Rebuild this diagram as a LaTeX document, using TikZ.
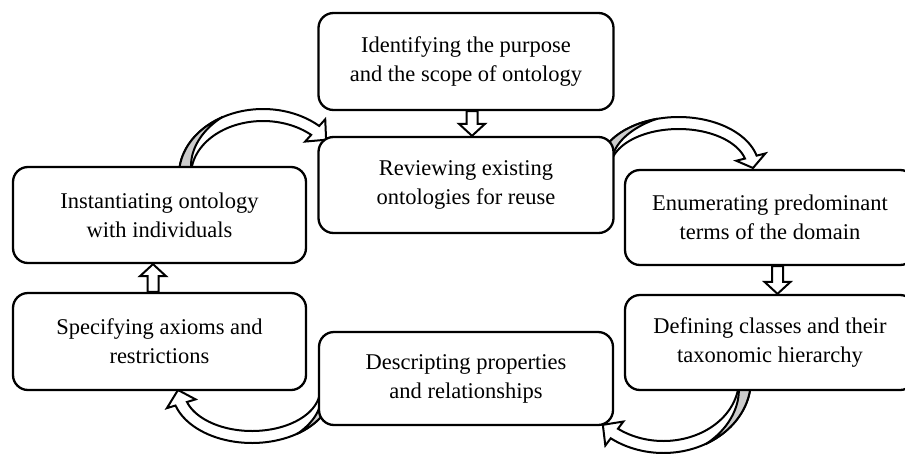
\documentclass[tikz,border=0pt]{standalone}
\usepackage{fontspec}
\setmainfont{Liberation Serif}
\usetikzlibrary{calc,backgrounds}
\tikzset{
  box/.style={draw, line width=2.3pt, rounded corners=15pt, fill=white, align=center,
    font=\fontsize{22.5}{29}\selectfont, inner sep=0pt},
  carrow/.style={line width=2pt, line join=miter, fill=white},
  barrow/.style={line width=2pt, line join=miter, fill=white},
}
% curved block arrow: cx cy rx ry tailangle tipangle headangle grayspan
\newcommand\curvarrow[8]{%
  \def\caX{#1}\def\caY{#2}\def\caRx{#3}\def\caRy{#4}\def\caA{#5}\def\caB{#6}%
  \pgfmathsetmacro\caH{#6-#7}%
  \pgfmathsetmacro\caG{#5+#8}%
  \filldraw[carrow]
    plot[domain=\caA:\caH, samples=50] ({\caX+(\caRx+6)*cos(\x)},{\caY+(\caRy+6)*sin(\x)})
    -- ({\caX+(\caRx+15)*cos(\caH)},{\caY+(\caRy+15)*sin(\caH)})
    -- ({\caX+\caRx*cos(\caB)},{\caY+\caRy*sin(\caB)})
    -- ({\caX+(\caRx-15)*cos(\caH)},{\caY+(\caRy-15)*sin(\caH)})
    -- ({\caX+(\caRx-6)*cos(\caH)},{\caY+(\caRy-6)*sin(\caH)})
    -- plot[domain=\caH:\caA, samples=50] ({\caX+(\caRx-6)*cos(\x)},{\caY+(\caRy-6)*sin(\x)})
    -- cycle;
  \filldraw[carrow, fill=black!20]
    plot[domain=\caA:\caG, samples=40] ({\caX+(\caRx+6)*cos(\x)},{\caY+(\caRy+6)*sin(\x)})
    -- plot[domain=\caG:\caA, samples=40] ({\caX+(\caRx+6-12*(\caG-\x)/(#8))*cos(\x)},{\caY+(\caRy+6-12*(\caG-\x)/(#8))*sin(\x)})
    -- cycle;
}
% straight vertical block arrow from coordinate #1 to coordinate #2
\newcommand\blockarrow[2]{%
  \filldraw[barrow]
    let \p1=(#1), \p2=(#2), \n1={sign(\y2-\y1)} in
    (\x1-5.5pt,\y1) -- (\x1-5.5pt,\y2-\n1*12pt) -- (\x1-13pt,\y2-\n1*12pt) -- (\x1,\y2)
    -- (\x1+13pt,\y2-\n1*12pt) -- (\x1+5.5pt,\y2-\n1*12pt) -- (\x1+5.5pt,\y1) -- cycle;
}
\begin{document}
\begin{tikzpicture}[x=1pt,y=-1pt]
\useasboundingbox (0,0) rectangle (905,453);
\node[box, minimum width=295pt, minimum height=97pt] (b1) at (466,61.5) {Identifying the purpose\\and the scope of ontology};
\node[box, minimum width=295pt, minimum height=96pt] (b2) at (466,185) {Reviewing existing\\ontologies for reuse};
\node[box, minimum width=290pt, minimum height=95pt] (b3) at (770,217.5) {Enumerating predominant\\terms of the domain};
\node[box, minimum width=290pt, minimum height=95pt] (b4) at (770,342.5) {Defining classes and their\\taxonomic hierarchy};
\node[box, minimum width=294pt, minimum height=93pt] (b5) at (466,378.5) {Descripting properties\\and relationships};
\node[box, minimum width=293pt, minimum height=97pt] (b6) at (159.5,341.5) {Specifying axioms and\\restrictions};
\node[box, minimum width=293pt, minimum height=96pt] (b7) at (159.5,215) {Instantiating ontology\\with individuals};
\begin{pgfonlayer}{background}
  \blockarrow{b1.south -| 472,0}{b2.north -| 472,0}
  \blockarrow{b3.south -| 777.5,0}{b4.north -| 777.5,0}
  \blockarrow{b6.north -| 153,0}{b7.south -| 153,0}
  \curvarrow{263}{175}{78}{60}{185}{324}{12}{55}
  \curvarrow{678.6}{168}{74.4}{45}{194}{360}{14}{60}
  \curvarrow{663.4}{380}{81.5}{67}{5}{138}{11}{55}
  \curvarrow{252}{390}{74}{47}{0}{180}{17}{55}
\end{pgfonlayer}
\end{tikzpicture}
\end{document}
